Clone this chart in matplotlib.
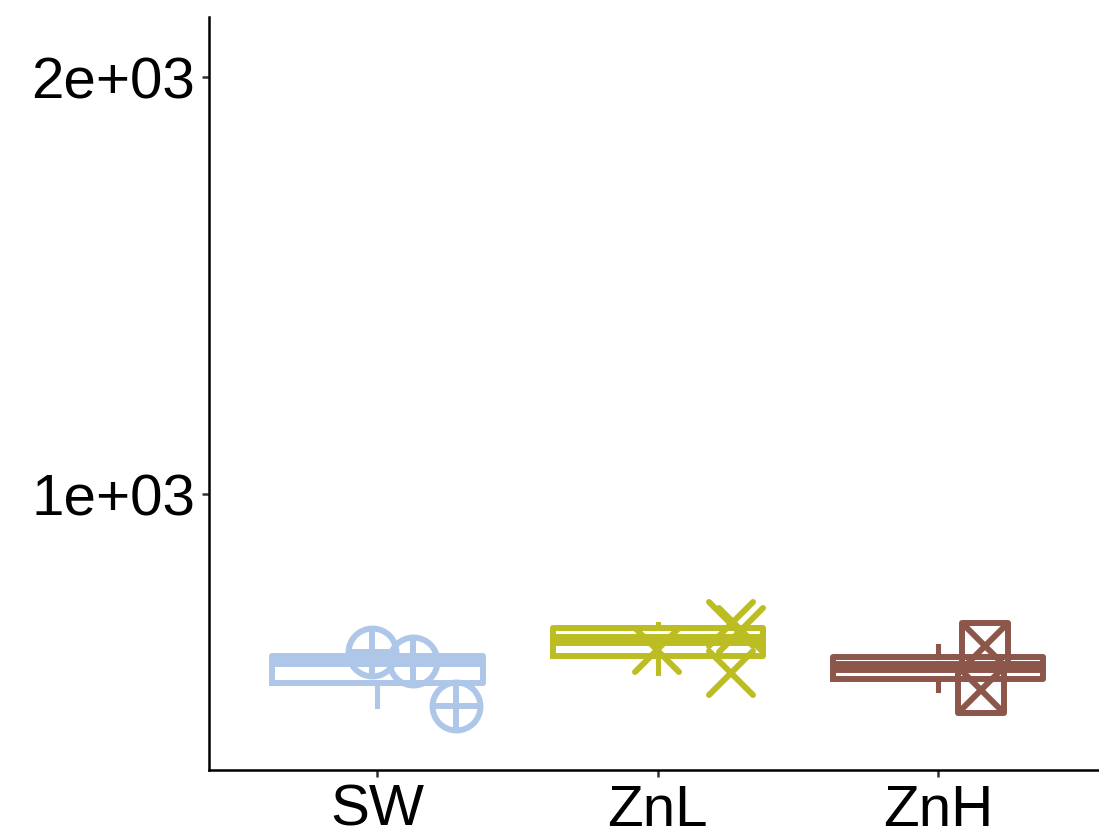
import numpy as np
import matplotlib
matplotlib.use('Agg')
import matplotlib.pyplot as plt
from matplotlib.markers import MarkerStyle

# Groups and measured values (one list per group)
groups = ['SW', 'ZnL', 'ZnH']
sw_vals = [769, 758, 703]
znl_vals = [771, 806, 798, 743]
znh_vals = [777, 722]

# horizontal jitter of each point around its group position
sw_jit = [-0.018, 0.128, 0.282]
znl_jit = [-0.004, 0.262, 0.298, 0.262]
znh_jit = [0.168, 0.153]

colors = ['#AEC7E8', '#BCBD22', '#8C564B']

y_ticks = [1000, 2000]
y_labels = ['1e+03', '2e+03']

plt.rcParams['font.family'] = ['Liberation Sans', 'DejaVu Sans']

fig = plt.figure(figsize=(10.99, 8.36), dpi=100)
ax = fig.add_axes([0.1902, 0.0789, 0.8167, 0.9008])

data = [sw_vals, znl_vals, znh_vals]

lw = 4.3
for i, (vals, col) in enumerate(zip(data, colors)):
    pos = i + 1
    ax.boxplot(vals, positions=[pos], widths=0.75, showcaps=False,
               showfliers=False, manage_ticks=False,
               boxprops=dict(color=col, linewidth=lw, solid_joinstyle='round'),
               whiskerprops=dict(color=col, linewidth=lw * 0.85),
               medianprops=dict(color=col, linewidth=lw * 2, solid_capstyle='butt'))

# point layers: circle-plus, cross, square-cross
ms_o = 34.5
ms_x = 31
ms_s = 33.5

px = [1 + j for j in sw_jit]
ax.plot(px, sw_vals, ls='none', marker='o', ms=ms_o, mfc='none', mec=colors[0], mew=lw)
ax.plot(px, sw_vals, ls='none', marker='+', ms=ms_o, mec=colors[0], mew=lw)

px = [2 + j for j in znl_jit]
ax.plot(px, znl_vals, ls='none', marker=MarkerStyle('x', capstyle='round'),
        ms=ms_x, mec=colors[1], mew=lw)

px = [3 + j for j in znh_jit]
ax.plot(px, znh_vals, ls='none', marker=MarkerStyle('s', joinstyle='round'), ms=ms_s,
        mfc='none', mec=colors[2], mew=lw)
ax.plot(px, znh_vals, ls='none', marker='x', ms=ms_s, mec=colors[2], mew=lw)

ax.set_yscale('log')
ax.set_ylim(632, 2210)
ax.set_xlim(0.4, 3.6)
ax.set_yticks(y_ticks)
ax.set_yticklabels(y_labels)
ax.yaxis.set_minor_locator(matplotlib.ticker.NullLocator())
ax.set_xticks([1, 2, 3])
ax.set_xticklabels(groups)

for s in ['top', 'right']:
    ax.spines[s].set_visible(False)
for s in ['left', 'bottom']:
    ax.spines[s].set_linewidth(1.8)
ax.tick_params(axis='both', length=5, width=1.8, color='#333333',
               labelsize=42, labelcolor='black', pad=5)

fig.savefig('out.png', dpi=100)
